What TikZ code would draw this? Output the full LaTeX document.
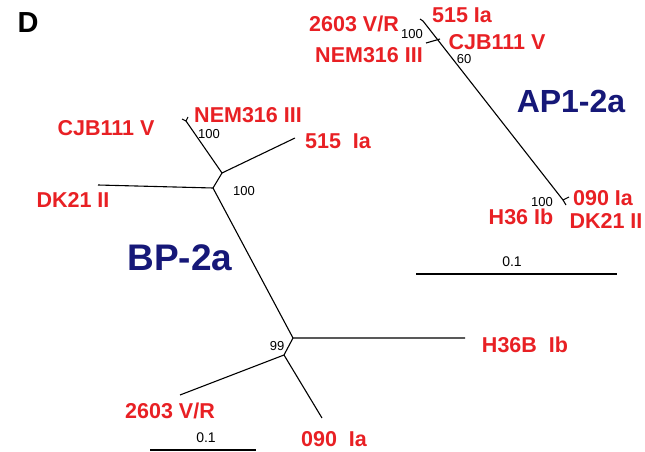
\documentclass[tikz,border=0pt]{standalone}
\usepackage{fontspec}
\setmainfont{Liberation Sans}
\definecolor{tipred}{RGB}{232,32,36}
\definecolor{cladeblue}{RGB}{22,24,120}
\tikzset{
  branch/.style={line width=1.1pt},
  tiplabel/.style={text=tipred, font=\bfseries\fontsize{21.5}{23}\selectfont, inner sep=0pt},
  support/.style={font=\fontsize{13}{14}\selectfont, inner sep=0pt},
  clade/.style={text=cladeblue, font=\bfseries\fontsize{37}{39}\selectfont, inner sep=0pt}
}
\begin{document}
\begin{tikzpicture}[x=1pt, y=-1pt]
    \useasboundingbox (0,0) rectangle (645,452);
    \node[font=\bfseries\fontsize{29}{31}\selectfont, inner sep=0pt] (panel) at (28,23) {D};
    % BP-2a
    \coordinate (bA) at (222,173);
    \coordinate (bB) at (213,188);
    \coordinate (bC) at (293,338);
    \coordinate (bD) at (284,355);
    \coordinate (bCN) at (186,121);
    \coordinate (bCNa) at (182,119);
    \coordinate (bCNb) at (188,117);
    \coordinate (b515) at (295,138);
    \coordinate (bDK) at (98,185);
    \coordinate (bH) at (465,338);
    \coordinate (b2603) at (180,395);
    \coordinate (b090) at (322,418);
    \draw[branch] (bCNa) -- (bCN) -- (bCNb);
    \draw[branch] (bCN) -- (bA) -- (b515);
    \draw[branch] (bA) -- (bB) -- (bDK);
    \draw[branch] (bB) -- (bC) -- (bH);
    \draw[branch] (bC) -- (bD) -- (b2603);
    \draw[branch] (bD) -- (b090);
    \node[tiplabel] (lCJBb) at (106,128) {CJB111 V};
    \node[tiplabel] (lNEMb) at (248,115) {NEM316 III};
    \node[tiplabel] (l515b) at (338,141) {515\ \ Ia};
    \node[tiplabel] (lDKb) at (73,200) {DK21 II};
    \node[tiplabel] (lHb) at (525,345) {H36B\ \ Ib};
    \node[tiplabel] (l2603b) at (170,411) {2603 V/R};
    \node[tiplabel] (l090b) at (334,439) {090\ \ Ia};
    \node[support] (sA) at (209,134) {100};
    \node[support] (sB) at (244,191) {100};
    \node[support] (sC) at (277,346) {99};
    \node[clade] (cBP) at (180,258) {BP-2a};
    \coordinate (barBl) at (150,450);
    \coordinate (barBr) at (256,450);
    \draw[branch] (barBl) -- (barBr);
    \node[support, font=\fontsize{14}{15}\selectfont] (barBt) at (206,438) {0.1};
    % AP1-2a
    \coordinate (aT) at (423,21);
    \coordinate (aTa) at (420,19);
    \coordinate (aB) at (563,200);
    \coordinate (aBa) at (569,197);
    \coordinate (aBb) at (566,205);
    \coordinate (aNa) at (426,43);
    \coordinate (aNb) at (440,39);
    \draw[branch] (aTa) -- (aT) -- (aB);
    \draw[branch] (aNa) -- (aNb);
    \draw[branch] (aBa) -- (aB) -- (aBb);
    \node[tiplabel] (l2603a) at (354,24) {2603 V/R};
    \node[tiplabel] (l515a) at (462,15) {515 Ia};
    \node[tiplabel] (lCJBa) at (497,42) {CJB111 V};
    \node[tiplabel] (lNEMa) at (369,55) {NEM316 III};
    \node[tiplabel] (l090a) at (603,198) {090 Ia};
    \node[tiplabel] (lHa) at (521,217) {H36 Ib};
    \node[tiplabel] (lDKa) at (606,221) {DK21 II};
    \node[support] (sT) at (412,34) {100};
    \node[support] (sN) at (464,59) {60};
    \node[support] (sBa) at (542,202) {100};
    \node[clade, font=\bfseries\fontsize{32}{34}\selectfont] (cAP) at (571,101) {AP1-2a};
    \coordinate (barAl) at (416,274);
    \coordinate (barAr) at (617,274);
    \draw[branch] (barAl) -- (barAr);
    \node[support, font=\fontsize{14}{15}\selectfont] (barAt) at (512,262) {0.1};
\end{tikzpicture}
\end{document}
